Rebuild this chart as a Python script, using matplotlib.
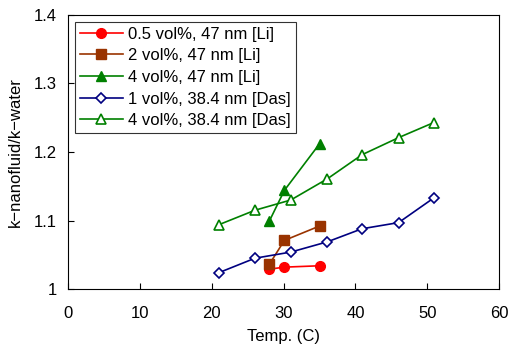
import matplotlib.pyplot as plt

plt.rcParams['font.family'] = ['Liberation Sans', 'DejaVu Sans']

# data
t_li = [28.0, 30.1, 35.0]
k_05_li = [1.029, 1.032, 1.034]
k_2_li = [1.036, 1.071, 1.092]
k_4_li = [1.099, 1.144, 1.212]

t_das = [21.0, 26.0, 31.0, 36.1, 40.9, 46.0, 50.9]
k_1_das = [1.024, 1.045, 1.054, 1.069, 1.088, 1.097, 1.133]
k_4_das = [1.094, 1.115, 1.130, 1.161, 1.196, 1.221, 1.243]

fig = plt.figure(figsize=(5.12, 3.56), dpi=100)
ax = fig.add_axes([0.133, 0.188, 0.842, 0.770])

ax.plot(t_li, k_05_li, '-o', color='#ff0000', ms=7, lw=1.2, label='0.5 vol%, 47 nm [Li]')
ax.plot(t_li, k_2_li, '-s', color='#993300', ms=7, lw=1.2, label='2 vol%, 47 nm [Li]')
ax.plot(t_li, k_4_li, '-^', color='#008000', ms=7, lw=1.2, label='4 vol%, 47 nm [Li]')
ax.plot(t_das, k_1_das, '-D', color='#000080', ms=5, lw=1.2, mfc='white', mew=1.2,
        label='1 vol%, 38.4 nm [Das]')
ax.plot(t_das, k_4_das, '-^', color='#008000', ms=7, lw=1.2, mfc='white', mew=1.2,
        label='4 vol%, 38.4 nm [Das]')

ax.set_xlim(0, 60)
ax.set_ylim(1, 1.4)
ax.set_xticks(range(0, 61, 10))
ax.set_yticks([1, 1.1, 1.2, 1.3, 1.4])
ax.set_yticklabels(['1', '1.1', '1.2', '1.3', '1.4'])
ax.tick_params(direction='in', labelsize=12, length=4)
ax.tick_params(axis='x', pad=12)
ax.tick_params(axis='y', pad=8)
ax.set_xlabel('Temp. (C)', fontsize=12, labelpad=6)
ax.set_ylabel('k\u2212nanofluid/k\u2212water', fontsize=12, labelpad=8)

leg = ax.legend(loc='upper left', fontsize=12, frameon=True, fancybox=False,
                edgecolor='black', handlelength=2.6, handletextpad=0.3,
                borderpad=0.3, labelspacing=0.4, borderaxespad=0.4)
leg.get_frame().set_linewidth(0.8)

fig.savefig('out.png', dpi=100)
